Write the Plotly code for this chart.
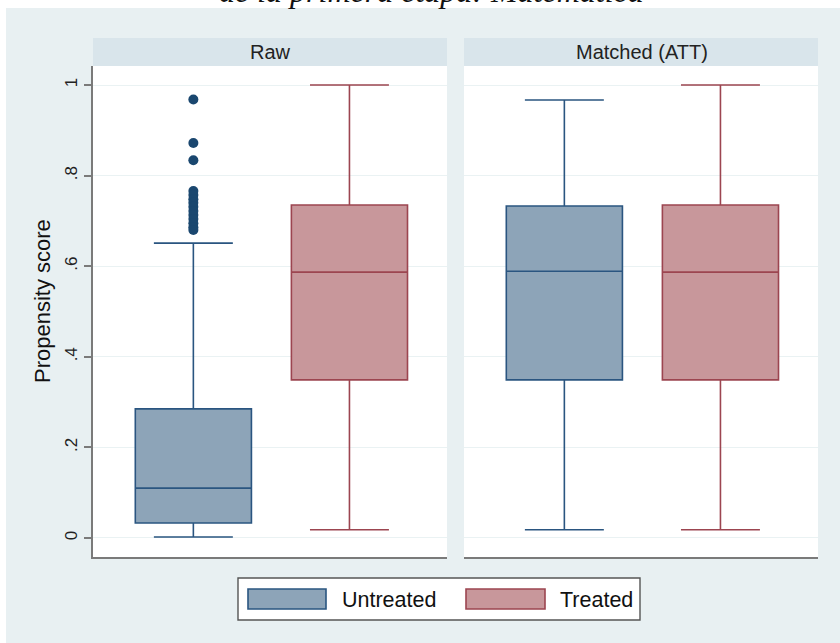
import plotly.graph_objects as go

# ---------------- data ----------------
panels = ["Raw", "Matched (ATT)"]
groups = ["Untreated", "Treated"]

raw_untreated = dict(lower=0.002, q1=0.033, median=0.110, q3=0.285, upper=0.651)
raw_treated = dict(lower=0.018, q1=0.349, median=0.587, q3=0.735, upper=1.000)
att_untreated = dict(lower=0.018, q1=0.349, median=0.589, q3=0.733, upper=0.967)
att_treated = dict(lower=0.018, q1=0.349, median=0.587, q3=0.735, upper=1.000)

raw_untreated_outliers = [0.968, 0.872, 0.834, 0.766, 0.757, 0.748, 0.740, 0.731,
                          0.722, 0.713, 0.704, 0.695, 0.686, 0.680]

ytick_vals = [0, 0.2, 0.4, 0.6, 0.8, 1.0]
ytick_text = ["0", ".2", ".4", ".6", ".8", "1"]

# ---------------- styling ----------------
W, H = 840, 643
ML, MR, MT, MB = 93, 22, 38, 86
PW, PH = W - ML - MR, H - MT - MB

def px_x(px):
    return (px - ML) / PW

def px_y(py):
    return (H - MB - py) / PH

BG = "#e8f0f2"
STRIP = "#d9e5eb"
NAVY = "#2a5580"
NAVY_FILL = "#8da4b8"
MAROON = "#9c4550"
MAROON_FILL = "#c8979b"
OUT_COL = "#1a476f"

colors = {"Untreated": (NAVY, NAVY_FILL), "Treated": (MAROON, MAROON_FILL)}

fig = go.Figure()

def add_box(stats, pos, group, xa, ya):
    line_c, fill_c = colors[group]
    fig.add_trace(go.Box(
        x=[pos], q1=[stats["q1"]], median=[stats["median"]], q3=[stats["q3"]],
        lowerfence=[stats["lower"]], upperfence=[stats["upper"]],
        width=0.744, whiskerwidth=0.68,
        fillcolor=fill_c, line=dict(color=line_c, width=1.6),
        boxpoints=False, hoverinfo="skip", showlegend=False,
        xaxis=xa, yaxis=ya, name=group,
    ))

add_box(raw_untreated, 0, "Untreated", "x", "y")
add_box(raw_treated, 1, "Treated", "x", "y")
add_box(att_untreated, 0, "Untreated", "x2", "y2")
add_box(att_treated, 1, "Treated", "x2", "y2")

fig.add_trace(go.Scatter(
    x=[0] * len(raw_untreated_outliers), y=raw_untreated_outliers,
    mode="markers", marker=dict(color=OUT_COL, size=10),
    showlegend=False, hoverinfo="skip", xaxis="x", yaxis="y",
))

xr = [-0.643, 1.625]
yr = [-0.042, 1.042]
ytop = px_y(66)

xaxis_common = dict(range=xr, showticklabels=False, showgrid=False, zeroline=False,
                    showline=True, linecolor="#7a7a7a", linewidth=1.6, ticks="",
                    fixedrange=True)
yaxis_common = dict(range=yr, domain=[0, ytop], tickvals=ytick_vals,
                    showgrid=True, gridcolor="#eaf2f3", gridwidth=1.2, zeroline=False)

fig.update_layout(
    width=W, height=H,
    margin=dict(l=ML, r=MR, t=MT, b=MB),
    paper_bgcolor=BG, plot_bgcolor="white",
    showlegend=False,
    font=dict(family="Liberation Sans, Arial, sans-serif", color="#222"),
    xaxis=dict(domain=[0, px_x(447)], anchor="y", **xaxis_common),
    xaxis2=dict(domain=[px_x(464), 1], anchor="y2", **xaxis_common),
    yaxis=dict(anchor="x", ticktext=ytick_text, tickangle=-90,
               showline=True, linecolor="#7a7a7a", linewidth=1.6,
               ticks="outside", ticklen=7, tickcolor="#7a7a7a", tickwidth=1.6,
               ticklabelstandoff=0,
               tickfont=dict(size=17, color="#222"), **yaxis_common),
    yaxis2=dict(anchor="x2", matches="y", showticklabels=False, showline=False,
                ticks="", **yaxis_common),
)

shapes = []
# white strips at the top and left of the image
shapes.append(dict(type="rect", xref="paper", yref="paper", x0=px_x(-5), x1=px_x(W + 5),
                   y0=px_y(8), y1=px_y(-5), fillcolor="white", line=dict(width=0), layer="below"))
shapes.append(dict(type="rect", xref="paper", yref="paper", x0=px_x(-5), x1=px_x(6),
                   y0=px_y(H + 5), y1=px_y(-5), fillcolor="white", line=dict(width=0), layer="below"))
# panel strips
for x0, x1 in [(93, 447), (464, 818)]:
    shapes.append(dict(type="rect", xref="paper", yref="paper", x0=px_x(x0), x1=px_x(x1),
                       y0=px_y(66), y1=px_y(38), fillcolor=STRIP, line=dict(width=0), layer="below"))
# legend box
shapes.append(dict(type="rect", xref="paper", yref="paper", x0=px_x(238), x1=px_x(640),
                   y0=px_y(620), y1=px_y(578), fillcolor="white",
                   line=dict(color="#555", width=1.4), layer="above"))
# legend swatches
for (sx0, sx1), g in zip([(248, 326), (466, 545)], groups):
    lc, fc = colors[g]
    shapes.append(dict(type="rect", xref="paper", yref="paper", x0=px_x(sx0), x1=px_x(sx1),
                       y0=px_y(609), y1=px_y(589), fillcolor=fc,
                       line=dict(color=lc, width=1.6), layer="above"))
fig.update_layout(shapes=shapes)

annotations = []
for name, cx in zip(panels, [270, 642]):
    annotations.append(dict(text=name, xref="paper", yref="paper", x=px_x(cx), y=px_y(52),
                            xanchor="center", yanchor="middle", showarrow=False,
                            font=dict(size=20, color="#222")))
for g, tx in zip(groups, [340, 558]):
    annotations.append(dict(text=g, xref="paper", yref="paper", x=px_x(tx), y=px_y(600),
                            xanchor="left", yanchor="middle", showarrow=False,
                            font=dict(size=21.5, color="#111")))
annotations.append(dict(text="Propensity score", xref="paper", yref="paper",
                        x=px_x(42), y=px_y(301), xanchor="center", yanchor="middle",
                        textangle=-90, showarrow=False, font=dict(size=22, color="#111")))
annotations.append(dict(text="<i>de la primera etapa: Matemática</i>", xref="paper", yref="paper",
                        x=px_x(431), y=px_y(10.5), xanchor="center", yanchor="bottom",
                        showarrow=False,
                        font=dict(size=32, family="Liberation Serif, Times New Roman, serif",
                                  color="#111")))
fig.update_layout(annotations=annotations)

fig.write_html("out.html", config={"displayModeBar": False},
               post_script="document.body.style.margin='0px';")
